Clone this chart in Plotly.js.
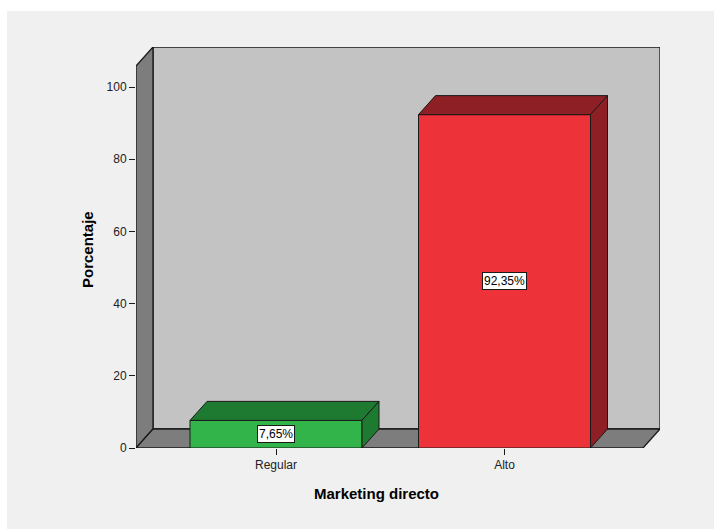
<!DOCTYPE html>
<html>
<head>
<meta charset="utf-8">
<script src="https://cdn.plot.ly/plotly-3.0.1.min.js"></script>
<style>html,body{margin:0;padding:0;background:#f0f0f0;overflow:hidden;}#chart{width:714px;height:529px;}</style>
</head>
<body>
<div id="chart"></div>
<script>
// ---- data ----
const categories = ['Regular', 'Alto'];
const percentages = [7.65, 92.35];
const yTickValues = [0, 20, 40, 60, 80, 100];
const xTitle = 'Marketing directo';
const yTitle = 'Porcentaje';

// ---- geometry (pixel scale helpers) ----
const PX_PER_X = 228.5;      // pixels per category step
const PX_PER_Y = 3.61;       // pixels per percentage unit
const dx = 17 / PX_PER_X;    // depth offset in x units
const dy = 19 / PX_PER_Y;    // depth offset in y units
const xMin = -140 / PX_PER_X;
const xMax = 384 / PX_PER_X;
const yMax = 401 / PX_PER_Y;
const barW = 172 / PX_PER_X;

const frontColors = ['#33b44a', '#ee323a'];
const darkColors = ['#1f7a31', '#8e1f24'];

const fmt = v => v.toFixed(2).replace('.', ',') + '%';
const xIdx = categories.map((c, i) => i);

const traces = [];
// front faces as bars
traces.push({
  type: 'bar', x: xIdx, y: percentages, width: barW,
  marker: {color: frontColors, line: {color: '#1a1a1a', width: 1}},
  hoverinfo: 'skip', showlegend: false
});
// top and side faces
percentages.forEach((v, i) => {
  const l = i - barW / 2, r = i + barW / 2;
  traces.push({
    type: 'scatter', mode: 'lines', fill: 'toself',
    x: [l, l + dx, r + dx, r, l], y: [v, v + dy, v + dy, v, v],
    fillcolor: darkColors[i], line: {color: '#1a1a1a', width: 1},
    hoverinfo: 'skip', showlegend: false
  });
  traces.push({
    type: 'scatter', mode: 'lines', fill: 'toself',
    x: [r, r, r + dx, r + dx, r], y: [0, v, v + dy, dy, 0],
    fillcolor: darkColors[i], line: {color: '#1a1a1a', width: 1},
    hoverinfo: 'skip', showlegend: false
  });
});

const P = (pts) => 'M ' + pts.map(p => p[0] + ',' + p[1]).join(' L ') + ' Z';
const shapes = [
  // white outer border (top and left)
  {type: 'rect', xref: 'paper', yref: 'paper', x0: -136/524, x1: 578/524, y0: 1 + 36/401, y1: 1 + 47/401,
   fillcolor: '#ffffff', line: {width: 0}, layer: 'below'},
  {type: 'rect', xref: 'paper', yref: 'paper', x0: -136/524, x1: -129/524, y0: -81/401, y1: 1 + 47/401,
   fillcolor: '#ffffff', line: {width: 0}, layer: 'below'},
  // back wall
  {type: 'path', xref: 'x', yref: 'y', layer: 'below',
   path: P([[xMin + dx, dy], [xMin + dx, yMax], [xMax, yMax], [xMax, dy]]),
   fillcolor: '#c3c3c3', line: {color: '#1a1a1a', width: 1.3}},
  // left wall
  {type: 'path', xref: 'x', yref: 'y', layer: 'below',
   path: P([[xMin, 0], [xMin, yMax - dy], [xMin + dx, yMax], [xMin + dx, dy]]),
   fillcolor: '#7d7d7d', line: {color: '#1a1a1a', width: 1.3}},
  // floor
  {type: 'path', xref: 'x', yref: 'y', layer: 'below',
   path: P([[xMin, 0], [xMin + dx, dy], [xMax, dy], [xMax - dx, 0]]),
   fillcolor: '#7d7d7d', line: {color: '#1a1a1a', width: 1.3}}
];

const annotations = percentages.map((v, i) => ({
  x: i, y: v / 2, xref: 'x', yref: 'y', text: fmt(v), showarrow: false,
  font: {family: 'Liberation Sans, Arial, sans-serif', size: 12, color: '#000'},
  bgcolor: '#ffffff', bordercolor: '#1a1a1a', borderwidth: 1, borderpad: 1
}));
annotations.push({
  xref: 'paper', yref: 'paper', x: (376 - 136) / 524, y: -(493 - 448) / 401,
  xanchor: 'center', yanchor: 'middle',
  text: '<b>' + xTitle + '</b>', showarrow: false,
  font: {family: 'Liberation Sans, Arial, sans-serif', size: 15, color: '#000'}
});
annotations.push({
  xref: 'paper', yref: 'paper', x: -(136 - 87) / 524, y: (448 - 250) / 401,
  xanchor: 'center', yanchor: 'middle',
  text: '<b>' + yTitle + '</b>', showarrow: false, textangle: -90,
  font: {family: 'Liberation Sans, Arial, sans-serif', size: 15, color: '#000'}
});

const layout = {
  width: 714, height: 529,
  margin: {l: 136, r: 54, t: 47, b: 81, pad: 0},
  paper_bgcolor: '#f0f0f0', plot_bgcolor: 'rgba(0,0,0,0)',
  font: {family: 'Liberation Sans, Arial, sans-serif', size: 12, color: '#222'},
  xaxis: {range: [xMin, xMax], tickvals: xIdx, ticktext: categories, ticks: 'outside', ticklen: 6,
          tickcolor: '#1a1a1a', showgrid: false, zeroline: false, showline: false, fixedrange: true},
  yaxis: {range: [0, yMax], tickvals: yTickValues, ticks: 'outside', ticklen: 6, tickcolor: '#1a1a1a',
          showgrid: false, zeroline: false, showline: false, fixedrange: true},
  shapes: shapes, annotations: annotations, showlegend: false, bargap: 0
};

Plotly.newPlot('chart', traces, layout, {displayModeBar: false, staticPlot: true});
</script>
</body>
</html>
